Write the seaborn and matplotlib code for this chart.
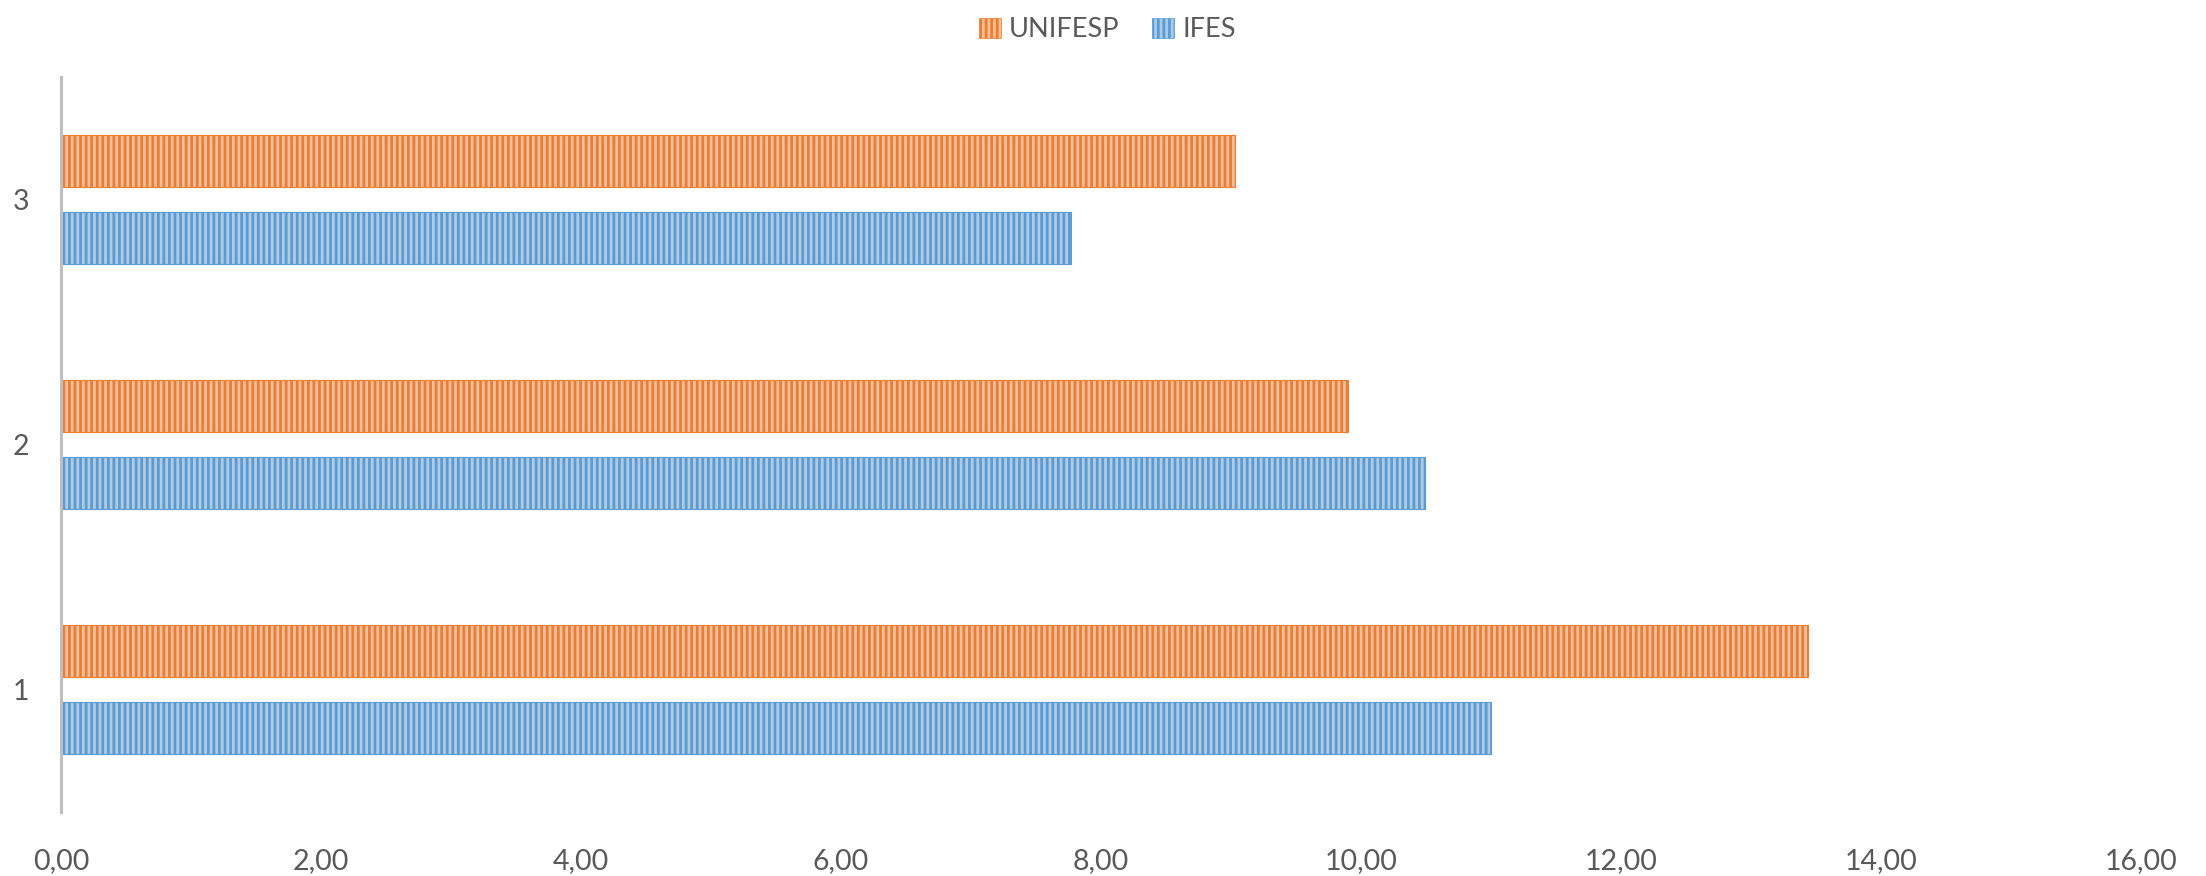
import pandas as pd
import numpy as np
import matplotlib
matplotlib.use('Agg')
import matplotlib.pyplot as plt
from matplotlib.ticker import FuncFormatter
from matplotlib.patches import Patch
import seaborn as sns

# ---------- data ----------
categories = ['1', '2', '3']
series = ['UNIFESP', 'IFES']
unifesp_values = [13.44, 9.90, 9.03]
ifes_values = [11.00, 10.49, 7.77]
x_ticks = [0, 2, 4, 6, 8, 10, 12, 14, 16]

df = pd.DataFrame({
    'Categoria': categories * 2,
    'Serie': ['UNIFESP'] * 3 + ['IFES'] * 3,
    'Valor': unifesp_values + ifes_values,
})

sns.set_theme(style='white')
plt.rcParams['font.family'] = ['Lato', 'DejaVu Sans']
plt.rcParams['hatch.linewidth'] = 2.0

face = {'UNIFESP': '#F7BE95', 'IFES': '#A9CBEA'}
hatchc = {'UNIFESP': '#ED7D31', 'IFES': '#5B9BD5'}

fig = plt.figure(figsize=(22.06, 8.76), dpi=100)
ax = fig.add_axes([0.0277, 0.0731, 0.9428, 0.8389])

sns.barplot(data=df, y='Categoria', x='Valor', hue='Serie', orient='h',
            order=['3', '2', '1'], hue_order=series,
            width=0.63, gap=0.333, palette=face, ax=ax, legend=False,
            errorbar=None)

# vertical stripes on the bars
for cont, name in zip(ax.containers, series):
    for bar in cont:
        bar.set_hatch('|||')
        bar.set_edgecolor(hatchc[name])
        bar.set_linewidth(0.8)

ax.set_xlim(0, 16)
ax.set_ylim(2.5, -0.5)
ax.set_xticks(x_ticks)
ax.xaxis.set_major_formatter(FuncFormatter(lambda v, p: f'{v:.2f}'.replace('.', ',')))
ax.set_xlabel('')
ax.set_ylabel('')
ax.tick_params(axis='both', length=0, labelsize=20.5, labelcolor='#595959')
ax.tick_params(axis='x', pad=26)
ax.tick_params(axis='y', pad=23)
for s in ['top', 'right', 'bottom']:
    ax.spines[s].set_visible(False)
ax.spines['left'].set_color('#BFBFBF')
ax.spines['left'].set_linewidth(2.2)
ax.grid(False)

# legend
handles = [Patch(facecolor=face[n], edgecolor=hatchc[n], hatch='|||', linewidth=0.5, label=n)
           for n in series]
fig.legend(handles=handles, loc='upper center', bbox_to_anchor=(0.502, 1.008), ncol=2,
           frameon=False, fontsize=19.5, labelcolor='#595959', handlelength=0.8,
           handleheight=0.8, handletextpad=0.3, columnspacing=1.2)

plt.savefig('out.png', dpi=100, facecolor='white')
